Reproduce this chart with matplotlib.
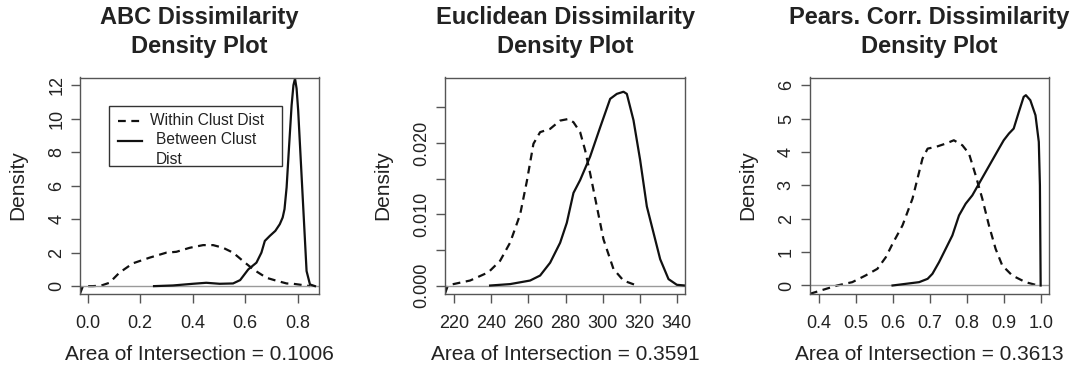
import matplotlib
matplotlib.use("Agg")
import matplotlib.pyplot as plt
from matplotlib.lines import Line2D
from matplotlib.patches import Rectangle

plt.rcParams['font.family'] = ['Liberation Sans', 'DejaVu Sans']

# ---------------- data ----------------
titles = ["ABC Dissimilarity", "Euclidean Dissimilarity", "Pears. Corr. Dissimilarity"]
subtitle = "Density Plot"
xlabels = ["Area of Intersection = 0.1006",
           "Area of Intersection = 0.3591",
           "Area of Intersection = 0.3613"]
ylabel = "Density"
legend_labels = ["Within Clust Dist", "Between Clust\nDist"]

abc_within_x = [-0.029, -0.018, 0.02, 0.051, 0.083, 0.121, 0.172, 0.236, 0.300, 0.338, 0.389,
                0.440, 0.478, 0.516, 0.554, 0.592, 0.631, 0.681, 0.720, 0.758, 0.783, 0.821, 0.847]
abc_within_y = [-0.45, 0.0, 0.0, 0.03, 0.2, 0.8, 1.36, 1.7, 2.0, 2.05, 2.29,
                2.45, 2.45, 2.29, 2.0, 1.5, 1.0, 0.5, 0.32, 0.16, 0.14, 0.06, 0.0]
abc_between_x = [0.253, 0.325, 0.401, 0.452, 0.503, 0.554, 0.581, 0.612, 0.643, 0.662, 0.675,
                 0.694, 0.715, 0.732, 0.743, 0.750, 0.758, 0.766, 0.777, 0.784, 0.790, 0.796,
                 0.802, 0.815, 0.828, 0.834, 0.847, 0.866]
abc_between_y = [0.0, 0.04, 0.14, 0.2, 0.14, 0.16, 0.36, 1.0, 1.4, 2.0, 2.7,
                 3.0, 3.3, 3.7, 4.1, 4.6, 5.9, 8.0, 10.8, 12.0, 12.4, 11.8,
                 10.5, 6.6, 2.7, 0.9, 0.1, 0.0]

euc_within_x = [215.0, 216.5, 217.7, 228.5, 238.4, 244.7, 250.1, 255.5, 259.1, 262.7, 266.3,
                271.7, 277.1, 281.6, 284.3, 287.9, 290.6, 293.3, 296.9, 300.5, 305.9, 311.3, 318.5]
euc_within_y = [-0.0011, 0.0, 0.0001, 0.0007, 0.00186, 0.00347, 0.00602, 0.00996, 0.01459, 0.0199, 0.02153,
                0.02199, 0.02315, 0.02338, 0.02292, 0.02153, 0.01898, 0.01574, 0.01111, 0.00648, 0.00231, 0.00069, 0.0]
euc_between_x = [239.3, 250.1, 260.9, 266.3, 271.7, 277.1, 280.7, 284.3, 287.9, 293.3, 298.7, 304.1,
                 307.7, 311.3, 313.1, 316.7, 320.3, 323.9, 327.5, 331.1, 335.6, 340.1, 344.6]
euc_between_y = [0.0, 0.0002, 0.0007, 0.0014, 0.0032, 0.006, 0.0088, 0.013, 0.0148, 0.0181, 0.0222, 0.0262,
                 0.0269, 0.0272, 0.0269, 0.0232, 0.0176, 0.0111, 0.0074, 0.0037, 0.0009, 0.0001, 0.0]

pc_within_x = [0.375, 0.449, 0.490, 0.526, 0.558, 0.581, 0.599, 0.626, 0.653, 0.671, 0.680, 0.694, 0.716,
               0.743, 0.765, 0.788, 0.806, 0.824, 0.842, 0.860, 0.878, 0.896, 0.923, 0.959, 0.986, 1.0]
pc_within_y = [-0.25, 0.0, 0.1, 0.3, 0.5, 0.85, 1.25, 1.8, 2.6, 3.4, 3.8, 4.1, 4.15,
               4.25, 4.35, 4.2, 3.95, 3.3, 2.6, 1.8, 1.1, 0.6, 0.3, 0.1, 0.02, 0.0]
pc_between_x = [0.599, 0.635, 0.671, 0.694, 0.707, 0.725, 0.743, 0.761, 0.779, 0.797, 0.815, 0.833, 0.851,
                0.869, 0.887, 0.900, 0.914, 0.927, 0.941, 0.954, 0.960, 0.972, 0.986, 0.995, 0.998, 1.0]
pc_between_y = [0.0, 0.05, 0.1, 0.2, 0.35, 0.7, 1.1, 1.5, 2.1, 2.45, 2.7, 3.05, 3.4,
                3.75, 4.1, 4.35, 4.55, 4.7, 5.2, 5.65, 5.7, 5.55, 5.1, 4.3, 3.0, 0.0]

abc_xticks = [0.0, 0.2, 0.4, 0.6, 0.8]
abc_xticklabels = ["0.0", "0.2", "0.4", "0.6", "0.8"]
abc_yticks = [0, 2, 4, 6, 8, 10, 12]
abc_yticklabels = ["0", "2", "4", "6", "8", "10", "12"]
euc_xticks = [220, 240, 260, 280, 300, 320, 340]
euc_xticklabels = ["220", "240", "260", "280", "300", "320", "340"]
euc_yticks = [0.000, 0.005, 0.010, 0.015, 0.020, 0.025]
euc_yticklabels = ["0.000", "", "0.010", "", "0.020", ""]
pc_xticks = [0.4, 0.5, 0.6, 0.7, 0.8, 0.9, 1.0]
pc_xticklabels = ["0.4", "0.5", "0.6", "0.7", "0.8", "0.9", "1.0"]
pc_yticks = [0, 1, 2, 3, 4, 5, 6]
pc_yticklabels = ["0", "1", "2", "3", "4", "5", "6"]

xlims = [(-0.029, 0.8825), (214.96, 344.5), (0.3747, 1.0226)]
ylims = [(-0.44, 12.46), (-0.00112, 0.0292), (-0.24, 6.23)]

panels = [
    (abc_within_x, abc_within_y, abc_between_x, abc_between_y,
     abc_xticks, abc_xticklabels, abc_yticks, abc_yticklabels),
    (euc_within_x, euc_within_y, euc_between_x, euc_between_y,
     euc_xticks, euc_xticklabels, euc_yticks, euc_yticklabels),
    (pc_within_x, pc_within_y, pc_between_x, pc_between_y,
     pc_xticks, pc_xticklabels, pc_yticks, pc_yticklabels),
]

# ---------------- layout ----------------
W, H = 1079, 367
fig = plt.figure(figsize=(W / 100, H / 100), dpi=100)

box_top, box_bot = 77.5, 293.5
lefts = [80.0, 445.0, 809.7]
rights = [319.3, 685.0, 1049.0]

TXT = "#222222"
BOX = "#555555"
tick_fs = 13
label_fs = 15
title_fs = 17

def fx(px):
    return px / W

def fy(py):
    return 1 - py / H

for i, (wx, wy, bx, by, xt, xtl, yt, ytl) in enumerate(panels):
    l, r = lefts[i], rights[i]
    ax = fig.add_axes([fx(l), fy(box_bot), (r - l) / W, (box_bot - box_top) / H])
    ax.set_xlim(*xlims[i])
    ax.set_ylim(*ylims[i])

    ax.plot(wx, wy, color="#111111", lw=1.6, dashes=(3.5, 2.5), solid_capstyle="butt")
    ax.axhline(0, color="#9a9a9a", lw=1.0)
    ax.plot(bx, by, color="#111111", lw=1.6)

    ax.set_xticks(xt)
    ax.set_xticklabels(xtl)
    ax.set_yticks(yt)
    ax.set_yticklabels(ytl, rotation=90, va="center")
    ax.tick_params(axis="both", direction="out", length=6.5, width=1.0, color=BOX,
                   labelsize=tick_fs, labelcolor=TXT)
    ax.tick_params(axis="x", pad=9)
    ax.tick_params(axis="y", pad=4.2)
    for s in ax.spines.values():
        s.set_color(BOX)
        s.set_linewidth(1.0)

    cx = (l + r) / 2
    fig.text(fx(cx), fy(24), titles[i], ha="center", va="baseline",
             fontsize=title_fs, fontweight="bold", color=TXT)
    fig.text(fx(cx), fy(52.7), subtitle, ha="center", va="baseline",
             fontsize=title_fs, fontweight="bold", color=TXT)
    fig.text(fx(cx), fy(359.5), xlabels[i], ha="center", va="baseline",
             fontsize=label_fs, color=TXT)
    fig.text(fx(l - 62), fy((box_top + box_bot) / 2), ylabel, ha="center", va="center",
             rotation=90, fontsize=label_fs, color=TXT)

    if i == 0:
        ax.add_patch(Rectangle((0.1224, 0.590), 0.843 - 0.1224, 0.8694 - 0.590,
                               transform=ax.transAxes, fill=True, facecolor="white",
                               edgecolor="#333333", lw=1.0, zorder=5))
        ax.add_line(Line2D([0.160, 0.258], [0.800, 0.800], transform=ax.transAxes,
                           color="#111111", lw=1.6, dashes=(3.5, 2.5), zorder=6))
        ax.add_line(Line2D([0.160, 0.258], [0.706, 0.706], transform=ax.transAxes,
                           color="#111111", lw=1.6, zorder=6))
        ax.text(0.2925, 0.800, legend_labels[0], transform=ax.transAxes,
                ha="left", va="center", fontsize=11.2, color=TXT, zorder=7)
        ax.text(0.3176, 0.668, legend_labels[1], transform=ax.transAxes,
                ha="left", va="center", fontsize=11.2, color=TXT, zorder=7,
                linespacing=1.45)

fig.savefig("out.png", dpi=100)
